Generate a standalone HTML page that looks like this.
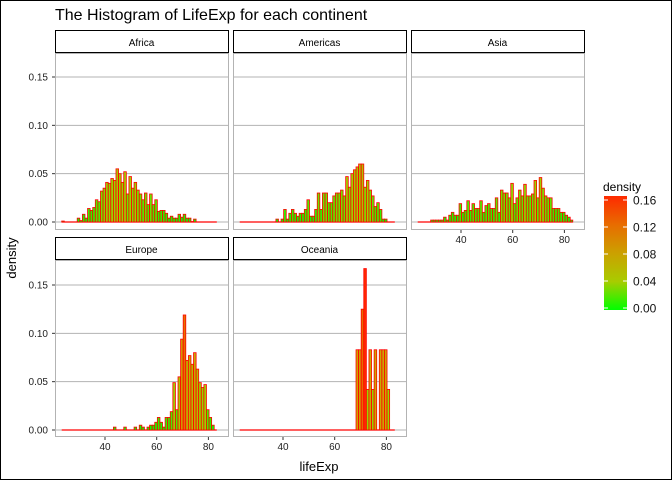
<!DOCTYPE html>
<html><head><meta charset="utf-8"><style>
body{margin:0;background:#fff}
svg{display:block;font-family:"Liberation Sans",Arial,sans-serif}
</style></head><body>
<svg width="672" height="480" viewBox="0 0 672 480" id="chart">
<defs><linearGradient id="lg" x1="0" y1="1" x2="0" y2="0">
<stop offset="0" stop-color="#00ff00"/><stop offset="0.25" stop-color="#a8cc00"/><stop offset="0.5" stop-color="#cca000"/><stop offset="0.75" stop-color="#e86c00"/><stop offset="1" stop-color="#ff2a00"/></linearGradient></defs>
<rect x="0.5" y="0.5" width="671" height="479" fill="#fff" stroke="#000"/>
<text x="55" y="20" font-size="16">The Histogram of LifeExp for each continent</text>
<text x="319" y="471" font-size="13" text-anchor="middle">lifeExp</text>
<text transform="translate(16,258) rotate(-90)" font-size="13" text-anchor="middle">density</text>
<g id="panels"></g>
<g>
<text x="603" y="191" font-size="12">density</text>
<rect x="604" y="196" width="23" height="114" fill="url(#lg)"/>
<g id="legticks"></g>
</g>
</svg>
<script>
const continents=["Africa","Americas","Asia","Europe","Oceania"];
const binStart=23.25, binWidth=1.0;
const africa=[.001,0,0,0,0,0,.004,.0015,.008,.004,.014,.012,.015,.023,.021,.032,.035,.041,.040,.045,.043,.055,.050,.041,.052,.029,.047,.035,.041,.033,.029,.023,.030,.018,.029,.018,.023,.011,.012,.012,.009,.004,.006,.004,.004,.008,.005,.008,.004,.004,.0005,.003,0,0,0,0,0,0,0,0];
const americas=[0,0,0,0,0,0,0,0,0,0,0,0,0,0,.003,0,.003,.013,.003,.009,.013,.009,.006,.009,.009,.013,.023,.006,.006,.013,.030,.013,.030,.030,.020,.020,.027,.030,.030,.033,.027,.047,.036,.050,.054,.057,.060,.060,.036,.043,.033,.027,.016,.020,.013,.003,.003,0,0,0];
const asia=[0,0,0,0,0,.002,.002,.002,.002,.002,.005,.002,.007,.010,.007,.007,.019,.010,.012,.022,.012,.019,.014,.014,.022,.010,.017,.019,.014,.014,.025,.010,.033,.030,.030,.025,.040,.019,.025,.033,.027,.039,.027,.027,.029,.043,.025,.046,.035,.027,.025,.025,.014,.014,.014,.010,.010,.007,.005,.002];
const europe=[0,0,0,0,0,0,0,0,0,0,0,0,0,0,0,0,0,0,0,0,.003,0,0,0,.003,0,0,0,.003,0,.005,.003,0,.003,.005,.005,.008,.013,.008,.003,.013,.013,.019,.049,.021,.055,.094,.119,.072,.077,.068,.080,.063,.049,.044,.047,.021,.013,.005,0];
const oceania=[0,0,0,0,0,0,0,0,0,0,0,0,0,0,0,0,0,0,0,0,0,0,0,0,0,0,0,0,0,0,0,0,0,0,0,0,0,0,0,0,0,0,0,0,0,.083,.083,.125,.167,.042,.083,.042,.083,0,.083,.083,.083,.042,0,0];
const seriesList=[africa,americas,asia,europe,oceania];
const yTicks=[0,0.05,0.10,0.15];
const yTickLabels=["0.00","0.05","0.10","0.15"];
const xTicks=[40,60,80];
const legendTicks=[0,0.04,0.08,0.12,0.16];
const legendLabels=["0.00","0.04","0.08","0.12","0.16"];
const NS="http://www.w3.org/2000/svg";
const cols=[55,233,411], panelW=173;
const rows=[{strip:30,top:53,bot:230,y0:222},{strip:237,top:260,bot:437,y0:430}];
const yPer=(222-77)/0.15;
function colorFor(d){
  const stops=[[0,[0,255,0]],[.25,[150,215,0]],[.5,[204,165,0]],[.75,[232,108,0]],[1,[255,42,0]]];
  let t=Math.max(0,Math.min(1,d/0.167));
  for(let i=1;i<stops.length;i++){if(t<=stops[i][0]){const a=stops[i-1],b=stops[i];const f=(t-a[0])/(b[0]-a[0]);
    return "rgb("+a[1].map((c,j)=>Math.round(c+(b[1][j]-c)*f)).join(",")+")";}}
  return "rgb(255,42,0)";
}
function mk(tag,attrs,parent){const e=document.createElementNS(NS,tag);for(const k in attrs)e.setAttribute(k,attrs[k]);parent.appendChild(e);return e;}
const root=document.getElementById("panels");
continents.forEach((name,i)=>{
  const r=rows[i<3?0:1], cx=cols[i%3];
  const xs=v=>cx+50+(v-40)*2.585;
  const ys=v=>r.y0-v*yPer;
  const g=mk("g",{},root);
  
  
  const st=mk("rect",{x:cx+0.5,y:r.strip+0.5,width:panelW,height:r.top-r.strip-1,fill:"#fff",stroke:"#000"},g);
  
  
  const stt=mk("text",{x:cx+panelW/2,y:r.strip+16,"font-size":"10","text-anchor":"middle"},g);
  stt.textContent=name;
  
  
  yTicks.forEach(t=>{const l=mk("line",{x1:cx,x2:cx+panelW,y1:ys(t),y2:ys(t),stroke:"#b3b3b3","stroke-width":"1"},g);
    
    });
  const fr=mk("rect",{x:cx+0.5,y:r.top+0.5,width:panelW,height:r.bot-r.top-1,fill:"none",stroke:"#b3b3b3"},g);
  
  
  const n=seriesList[i].length;
  const bl=mk("line",{x1:xs(binStart),x2:xs(binStart+n*binWidth),y1:ys(0),y2:ys(0),stroke:"#ff0000","stroke-width":"1.2"},g);
  
  
  seriesList[i].forEach((d,k)=>{
    if(d<=0)return;
    const x0=xs(binStart+k*binWidth), x1=xs(binStart+(k+1)*binWidth);
    const b=mk("rect",{x:x0,y:ys(d),width:x1-x0,height:Math.max(0,ys(0)-ys(d)),fill:colorFor(d),stroke:"#ff0000","stroke-width":"0.8"},g);
    
    
  });
  if(i%3===0){yTicks.forEach((t,j)=>{const tx=mk("text",{x:cx-7,y:ys(t)+3.5,"font-size":"10","text-anchor":"end",fill:"#222"},g);
    tx.textContent=yTickLabels[j];
    
    
    mk("line",{x1:cx-3,x2:cx,y1:ys(t),y2:ys(t),stroke:"#333"},g);});}
  if(i>=2){xTicks.forEach(t=>{const tx=mk("text",{x:xs(t),y:r.bot+13,"font-size":"10","text-anchor":"middle",fill:"#222"},g);
    tx.textContent=t;
    
    
    mk("line",{x1:xs(t),x2:xs(t),y1:r.bot,y2:r.bot+3,stroke:"#333"},g);});}
});
const lg=document.getElementById("legticks");
legendTicks.forEach((t,j)=>{const y=308-t/0.16*108;
  mk("line",{x1:604,x2:608,y1:y,y2:y,stroke:"#fff"},lg);
  mk("line",{x1:623,x2:627,y1:y,y2:y,stroke:"#fff"},lg);
  const tx=mk("text",{x:633,y:y+4.5,"font-size":"12",fill:"#111"},lg);
  tx.textContent=legendLabels[j];
  
  
});
</script>
</body></html>
